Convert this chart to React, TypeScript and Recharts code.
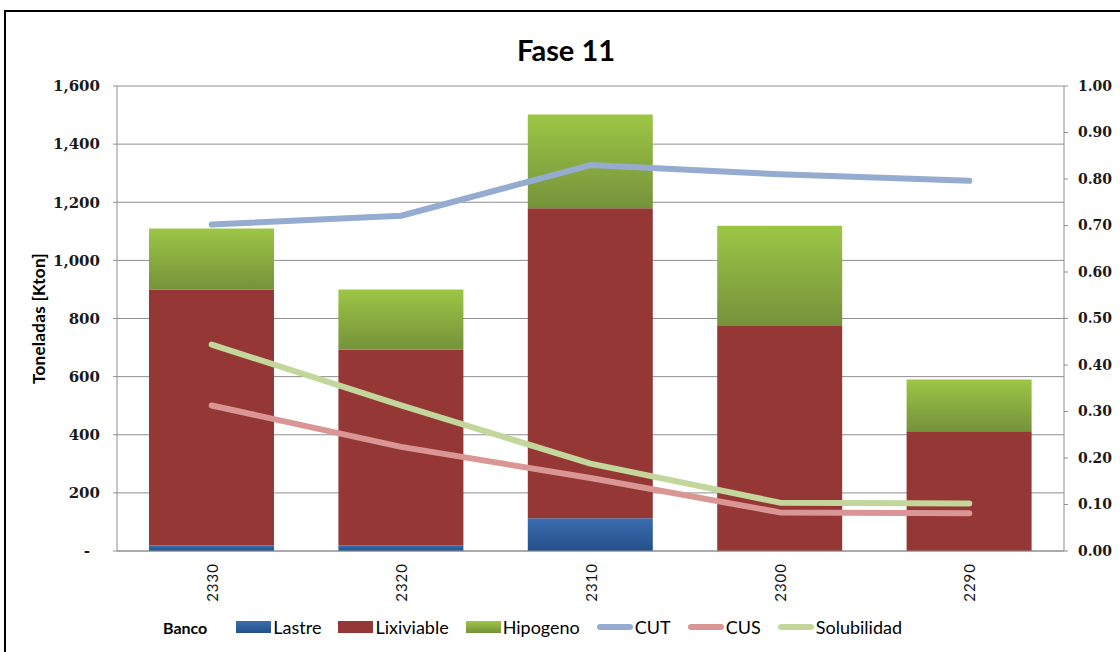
import React from 'react';
import {
  ComposedChart,
  Bar,
  Line,
  XAxis,
  YAxis,
  CartesianGrid,
} from 'recharts';

// Bench-by-bench tonnage (kton) and grade ratios for Fase 11
const bancos = ['2330', '2320', '2310', '2300', '2290'];
const lastre = [19, 20, 113, 0, 0];
const lixiviable = [881, 673, 1066, 777, 412];
const hipogeno = [210, 207, 323, 342, 178];
const cut = [0.702, 0.721, 0.83, 0.81, 0.796];
const cus = [0.313, 0.224, 0.157, 0.083, 0.081];
const solubilidad = [0.444, 0.313, 0.188, 0.104, 0.102];

const leftTicks = [0, 200, 400, 600, 800, 1000, 1200, 1400, 1600];
const rightTicks = [0, 0.1, 0.2, 0.3, 0.4, 0.5, 0.6, 0.7, 0.8, 0.9, 1.0];

const data = bancos.map((b, i) => ({
  banco: b,
  Lastre: lastre[i],
  Lixiviable: lixiviable[i],
  Hipogeno: hipogeno[i],
  CUT: cut[i],
  CUS: cus[i],
  Solubilidad: solubilidad[i],
}));

const COLORS = {
  lastreTop: '#3b6db0',
  lastreBottom: '#23508a',
  lixiviable: '#953735',
  hipTop: '#9dc645',
  hipBottom: '#75923b',
  cut: '#95abcf',
  cus: '#d99694',
  sol: '#c3d69b',
  grid: '#8e8e8e',
};

const serif = '"DejaVu Serif", serif';
const sans = 'Lato, "Open Sans", sans-serif';

const LeftTick = (props: any) => {
  const { x, y, payload } = props;
  const v = payload.value as number;
  const label = v === 0 ? '-' : v.toLocaleString('en-US');
  return (
    <text
      x={v === 0 ? x - 10 : x}
      y={y}
      dy="0.355em"
      textAnchor="end"
      fontFamily={serif}
      fontWeight="bold"
      fontSize={15}
      fill="#1a1a1a"
    >
      {label}
    </text>
  );
};

const RightTick = (props: any) => {
  const { x, y, payload } = props;
  return (
    <text
      x={x}
      y={y}
      dy="0.355em"
      textAnchor="start"
      fontFamily={serif}
      fontWeight="bold"
      fontSize={14}
      fill="#1a1a1a"
    >
      {(payload.value as number).toFixed(2)}
    </text>
  );
};

const BancoTick = (props: any) => {
  const { x, y, payload } = props;
  return (
    <text
      x={x}
      y={y}
      transform={`rotate(-90 ${x} ${y})`}
      textAnchor="end"
      dominantBaseline="central"
      fontFamily={sans}
      fontSize={15}
      letterSpacing={1}
      fill="#111"
    >
      {payload.value}
    </text>
  );
};

const legendItems = [
  { name: 'Lastre', kind: 'bar', fill: `linear-gradient(${COLORS.lastreTop}, ${COLORS.lastreBottom})` },
  { name: 'Lixiviable', kind: 'bar', fill: COLORS.lixiviable },
  { name: 'Hipogeno', kind: 'bar', fill: `linear-gradient(${COLORS.hipTop}, ${COLORS.hipBottom})` },
  { name: 'CUT', kind: 'line', fill: COLORS.cut },
  { name: 'CUS', kind: 'line', fill: COLORS.cus },
  { name: 'Solubilidad', kind: 'line', fill: COLORS.sol },
];

export default function App() {
  return (
    <div
      style={{
        position: 'fixed',
        left: 0,
        top: 0,
        width: 1120,
        height: 652,
        overflow: 'hidden',
        background: '#fff',
      }}
    >
      <div
        style={{
          position: 'absolute',
          left: 4,
          top: 10,
          width: 1200,
          height: 700,
          border: '2px solid #000',
          boxSizing: 'border-box',
        }}
      />
      <svg
        width={1120}
        height={80}
        style={{ position: 'absolute', left: 0, top: 0 }}
      >
        <text
          x={566}
          y={61}
          textAnchor="middle"
          fontFamily={sans}
          fontWeight="bold"
          fontSize={29}
          fill="#000"
        >
          Fase 11
        </text>
      </svg>
      <div style={{ position: 'absolute', left: 0, top: 0 }}>
        <ComposedChart
          width={1120}
          height={652}
          data={data}
          margin={{ top: 86, right: 0, bottom: 41, left: 0 }}
        >
          <defs>
            <linearGradient id="gradLastre" x1="0" y1="0" x2="0" y2="1">
              <stop offset="0%" stopColor={COLORS.lastreTop} />
              <stop offset="100%" stopColor={COLORS.lastreBottom} />
            </linearGradient>
            <linearGradient id="gradHip" x1="0" y1="0" x2="0" y2="1">
              <stop offset="0%" stopColor={COLORS.hipTop} />
              <stop offset="100%" stopColor={COLORS.hipBottom} />
            </linearGradient>
          </defs>
          <CartesianGrid
            yAxisId="left"
            vertical={false}
            stroke={COLORS.grid}
            strokeWidth={1}
          />
          <XAxis
            dataKey="banco"
            height={60}
            axisLine={{ stroke: COLORS.grid }}
            tickLine={false}
            tickSize={0}
            tickMargin={12}
            tick={<BancoTick />}
            interval={0}
          />
          <YAxis
            yAxisId="left"
            orientation="left"
            width={117}
            domain={[0, 1600]}
            ticks={leftTicks}
            interval={0}
            axisLine={{ stroke: COLORS.grid }}
            tickLine={{ stroke: COLORS.grid }}
            tickSize={4}
            tickMargin={13}
            tick={<LeftTick />}
            label={{
              value: 'Toneladas [Kton]',
              angle: -90,
              position: 'center',
              dx: -20,
              style: {
                fontFamily: sans,
                fontWeight: 'bold',
                fontSize: 17,
                letterSpacing: 0.3,
                fill: '#000',
              },
            }}
          />
          <YAxis
            yAxisId="right"
            orientation="right"
            width={56}
            domain={[0, 1]}
            ticks={rightTicks}
            interval={0}
            axisLine={{ stroke: COLORS.grid }}
            tickLine={{ stroke: COLORS.grid }}
            tickSize={4}
            tickMargin={10}
            tick={<RightTick />}
          />
          <Bar
            yAxisId="left"
            dataKey="Lastre"
            stackId="t"
            barSize={125}
            fill="url(#gradLastre)"
            isAnimationActive={false}
          />
          <Bar
            yAxisId="left"
            dataKey="Lixiviable"
            stackId="t"
            barSize={125}
            fill={COLORS.lixiviable}
            isAnimationActive={false}
          />
          <Bar
            yAxisId="left"
            dataKey="Hipogeno"
            stackId="t"
            barSize={125}
            fill="url(#gradHip)"
            isAnimationActive={false}
          />
          <Line
            yAxisId="right"
            dataKey="CUT"
            type="linear"
            stroke={COLORS.cut}
            strokeWidth={6}
            strokeLinecap="round"
            strokeLinejoin="round"
            dot={false}
            isAnimationActive={false}
          />
          <Line
            yAxisId="right"
            dataKey="CUS"
            type="linear"
            stroke={COLORS.cus}
            strokeWidth={6}
            strokeLinecap="round"
            strokeLinejoin="round"
            dot={false}
            isAnimationActive={false}
          />
          <Line
            yAxisId="right"
            dataKey="Solubilidad"
            type="linear"
            stroke={COLORS.sol}
            strokeWidth={6}
            strokeLinecap="round"
            strokeLinejoin="round"
            dot={false}
            isAnimationActive={false}
          />
        </ComposedChart>
      </div>
      <div
        style={{
          position: 'absolute',
          left: 163,
          top: 616,
          display: 'flex',
          alignItems: 'center',
          fontFamily: sans,
          fontSize: 18,
          color: '#000',
          whiteSpace: 'nowrap',
        }}
      >
        <span style={{ fontWeight: 'bold', fontSize: 16, marginRight: 29 }}>Banco</span>
        {legendItems.map((it) => (
          <span
            key={it.name}
            style={{ display: 'flex', alignItems: 'center', marginRight: 17 }}
          >
            {it.kind === 'bar' ? (
              <span
                style={{
                  display: 'inline-block',
                  width: 35,
                  height: 12,
                  background: it.fill,
                  marginRight: 2,
                }}
              />
            ) : (
              <span
                style={{
                  display: 'inline-block',
                  width: 36,
                  height: 6,
                  borderRadius: 3,
                  background: it.fill,
                  marginRight: 2,
                }}
              />
            )}
            <span>{it.name}</span>
          </span>
        ))}
      </div>
    </div>
  );
}
